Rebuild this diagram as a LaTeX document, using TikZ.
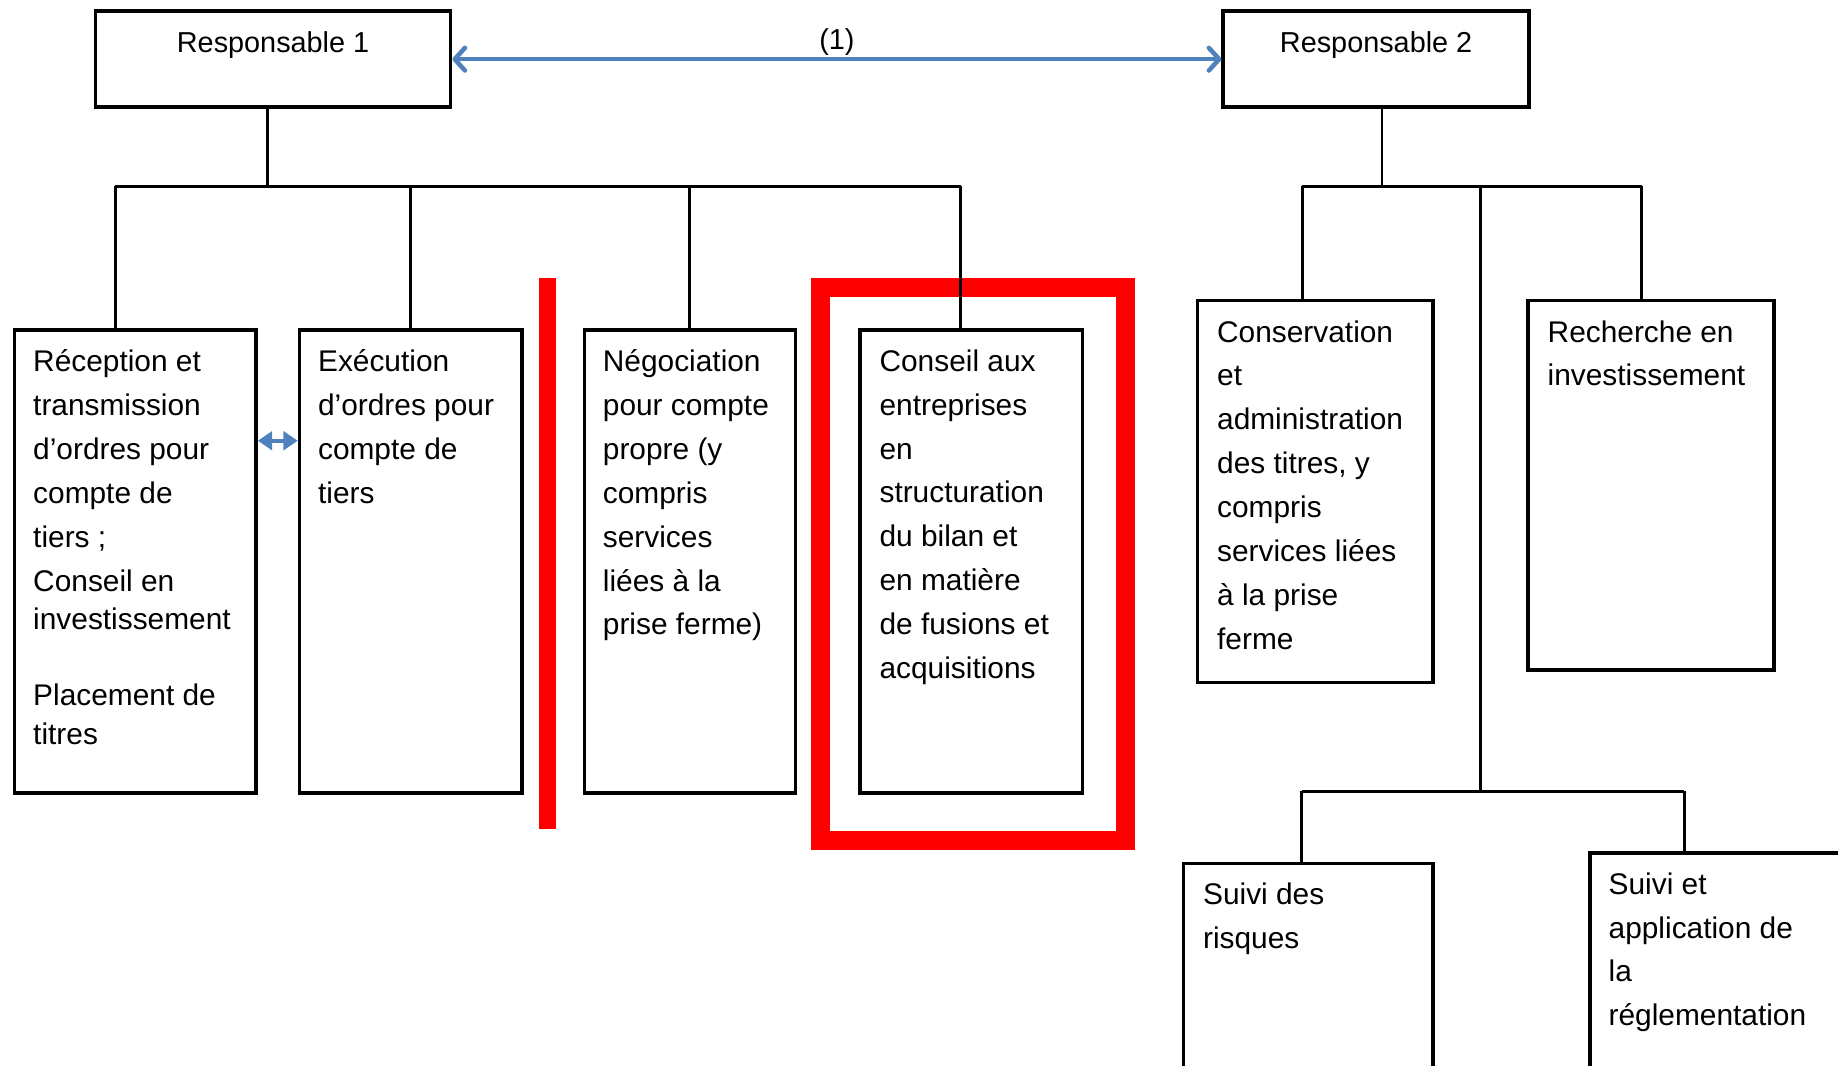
\documentclass[tikz,border=0pt]{standalone}
\usepackage{fontspec}
\setmainfont{Liberation Sans}
\usetikzlibrary{arrows.meta}
\definecolor{blueline}{HTML}{4F81BD}

\begin{document}
\begin{tikzpicture}[x=0.02cm,y=-0.02cm]
\tikzset{
% boxes of the chart, and the text set in their upper left corner
unit/.style={draw,line width=1.7pt,anchor=north west,inner sep=0pt,minimum height=7.9cm},
head/.style={unit,minimum height=1.64cm},
unit text/.style={anchor=north west,align=left,inner sep=0pt,font=\fontsize{14.5}{21.3}\selectfont,execute at begin node=\strut},
head text/.style={anchor=base,inner sep=0pt,font=\fontsize{14}{17}\selectfont},
tree/.style={line width=1.4pt},
link/.style={draw=blueline,line width=2.2pt}
}
\useasboundingbox (0,0) rectangle (1568,909);
\clip (0,0) rectangle (1568,909);

% marks in red
\fill[red] (460,237) rectangle (474,707);
\draw[red,line width=0.32cm] (700,245) rectangle (960,717);

% The heads
\node[head,minimum width=6.06cm](resp1) at (80,8) {};
\node[head,minimum width=5.22cm](resp2) at (1042,8) {};
\node[head text] at ([shift={(0,37)}]resp1.north) {Responsable 1};
\node[head text] at ([shift={(0,37)}]resp2.north) {Responsable 2};

% The units under Responsable 1
\node[unit,minimum width=4.12cm](rto) at (11,280) {};
\node[unit,minimum width=3.8cm](exec) at (254,280) {};
\node[unit,minimum width=3.6cm](nego) at (497,280) {};
\node[unit,minimum width=3.8cm](conseil) at (732,280) {};
% The units under Responsable 2
\node[unit,minimum width=4.02cm,minimum height=6.52cm](conserv) at (1020,255) {};
\node[unit,minimum width=4.2cm,minimum height=6.3cm](recherche) at (1302,255) {};
\node[unit,minimum width=4.26cm,minimum height=5cm](risques) at (1008,735) {};
\node[unit,minimum width=4.7cm,minimum height=5cm](conformite) at (1355,726) {};

% texts of the units
\node[unit text] at ([shift={(17,18)}]rto.north west)
  {Réception et\\transmission\\d’ordres pour\\compte de\\tiers ;\\Conseil en\\[-0.09cm]investissement\\[0.55cm]Placement de\\[-0.08cm]titres};
\node[unit text] at ([shift={(17,18)}]exec.north west)
  {Exécution\\d’ordres pour\\compte de\\tiers};
\node[unit text] at ([shift={(17,18)}]nego.north west)
  {Négociation\\pour compte\\propre (y\\compris\\services\\liées à la\\prise ferme)};
\node[unit text] at ([shift={(18,18)}]conseil.north west)
  {Conseil aux\\entreprises\\en\\structuration\\du bilan et\\en matière\\de fusions et\\acquisitions};
\node[unit text] at ([shift={(18,18)}]conserv.north west)
  {Conservation\\et\\administration\\des titres, y\\compris\\services liées\\à la prise\\ferme};
\node[unit text] at ([shift={(18,18)}]recherche.north west)
  {Recherche en\\investissement};
\node[unit text] at ([shift={(18,18)}]risques.north west)
  {Suivi des\\risques};
\node[unit text] at ([shift={(17,18)}]conformite.north west)
  {Suivi et\\application de\\la\\réglementation};

% tree of Responsable 1
\coordinate (bus1) at (228,159);
\draw[tree] (resp1.south -| bus1) -- (bus1);
\draw[tree] ([xshift=-0.34cm]rto.north |- bus1) -- ([xshift=-0.18cm]conseil.north |- bus1);
\draw[tree] ([xshift=-0.34cm]rto.north |- bus1) -- ([xshift=-0.34cm]rto.north);
\draw[tree] (exec.north |- bus1) -- (exec.north);
\draw[tree] (nego.north |- bus1) -- (nego.north);
\draw[tree] ([xshift=-0.18cm]conseil.north |- bus1) -- ([xshift=-0.18cm]conseil.north);

% tree of Responsable 2
\coordinate (bus2) at (1179,159);
\coordinate (bus3) at (1263,675);
\draw[tree] (resp2.south -| bus2) -- (bus2);
\draw[tree] ([xshift=-0.22cm]conserv.north |- bus2) -- ([xshift=-0.16cm]recherche.north |- bus2);
\draw[tree] ([xshift=-0.22cm]conserv.north |- bus2) -- ([xshift=-0.22cm]conserv.north);
\draw[tree] ([xshift=-0.16cm]recherche.north |- bus2) -- ([xshift=-0.16cm]recherche.north);
\draw[tree] (bus3 |- bus2) -- (bus3);
\draw[tree] ([xshift=-0.11cm]risques.north |- bus3) -- ([xshift=-0.74cm]conformite.north |- bus3);
\draw[tree] ([xshift=-0.11cm]risques.north |- bus3) -- ([xshift=-0.11cm]risques.north);
\draw[tree] ([xshift=-0.74cm]conformite.north |- bus3) -- ([xshift=-0.74cm]conformite.north);

% links in blue
\draw[link,{Straight Barb[length=5pt,width=11pt,round]}-{Straight Barb[length=5pt,width=11pt,round]}]
  (resp1) -- node[above=-2.7pt,font=\fontsize{14}{17}\selectfont]{(1)} (resp2);
\draw[link,line width=2pt,{Triangle[length=7pt,width=9pt]}-{Triangle[length=7pt,width=9pt]}]
  (rto.east |- 0,376) -- (exec.west |- 0,376);
\end{tikzpicture}
\end{document}
